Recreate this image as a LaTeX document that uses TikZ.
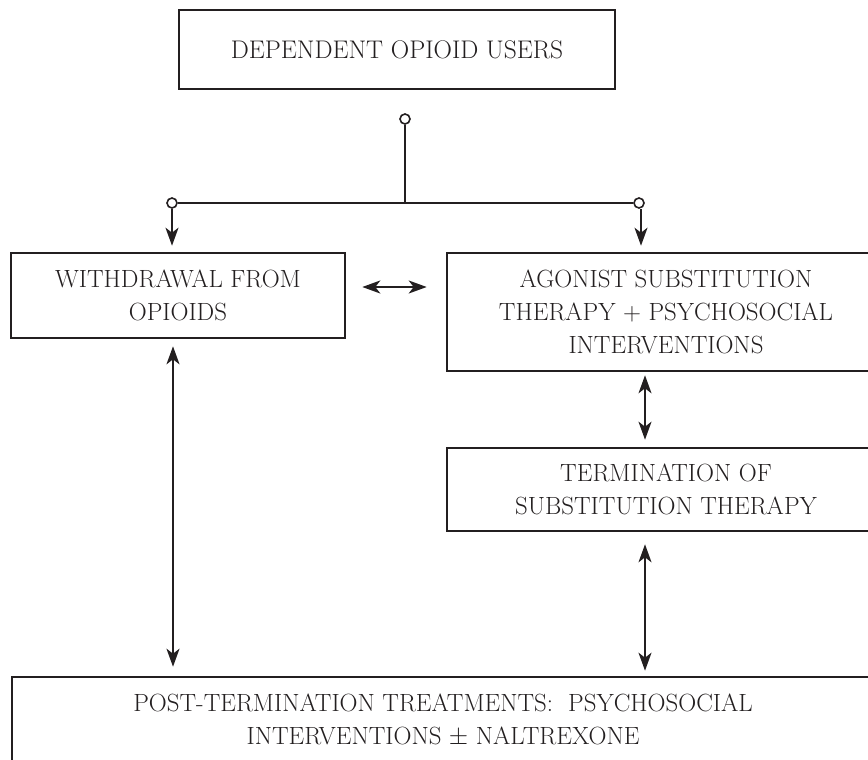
\documentclass[tikz,border=0pt]{standalone}
\usepackage{amsmath}
\usepackage{fontspec}
\usepackage{tikz}
\usetikzlibrary{shapes, arrows.meta, positioning}
\definecolor{ink}{HTML}{231F20}
\newcommand{\boxfont}[1]{\fontsize{#1}{33}\selectfont\addfontfeatures{FakeBold=0.7}}
\tikzstyle{block} = [draw=ink, line width=2.6pt, rectangle, text=ink, align=center, inner sep=0pt, font=\boxfont{24.9}]
\tikzstyle{dot} = [draw=ink, fill=white, circle, line width=1.6pt, inner sep=0pt, minimum size=10pt]
\tikzstyle{link} = [draw=ink, line width=1.8pt]

\begin{document}
\begin{tikzpicture}[x=1pt, y=-1pt, >={Stealth[length=18pt,width=13pt,inset=5pt]}]
    \useasboundingbox (0,0) rectangle (868,760);
    \clip (0,0) rectangle (868,760);
    % boxes
    \node [block, minimum width=436pt, minimum height=79pt, font=\boxfont{25.5}] (users) at (397,49.5) {DEPENDENT OPIOID USERS};
    \node [block, minimum width=334pt, minimum height=85pt] (withdraw) at (178,295.5) {WITHDRAWAL FROM\\OPIOIDS};
    \node [block, minimum width=438pt, minimum height=118pt] (agonist) at (666,312) {AGONIST SUBSTITUTION\\THERAPY + PSYCHOSOCIAL\\INTERVENTIONS};
    \node [block, minimum width=438pt, minimum height=83pt] (termination) at (666,489.5) {TERMINATION OF\\SUBSTITUTION THERAPY};
    \node [block, minimum width=862pt, minimum height=86pt] (post) at (443,720) {POST-TERMINATION TREATMENTS:\ \ PSYCHOSOCIAL\\INTERVENTIONS $\pm$ NALTREXONE};
    % split
    \node [dot] (split) at (405,119) {};
    \node [dot] (leftend) at (172,203) {};
    \node [dot] (rightend) at (639,203) {};
    \coordinate (fork) at (405,203);
    \draw [link] (split) -- (fork);
    \draw [link] (leftend) -- (rightend);
    \draw [link,->,shorten >=6pt] (leftend) -- (leftend |- withdraw.north);
    \draw [link,->,shorten >=6pt] ([xshift=2pt]rightend.south) -- ([xshift=2pt]rightend |- agonist.north);
    % two way links
    \draw [link,<->,line width=2.2pt,shorten <=16pt,shorten >=19pt] ([yshift=8.5pt]withdraw.east) -- ([yshift=8.5pt]withdraw.east -| agonist.west);
    \draw [link,<->,shorten <=7pt,shorten >=9pt] ([xshift=1pt]withdraw.south -| leftend) -- ([xshift=1pt]post.north -| leftend);
    \draw [link,<->,shorten <=3pt,shorten >=7pt] ([xshift=6pt]agonist.south -| rightend) -- ([xshift=6pt]termination.north -| rightend);
    \draw [link,<->,shorten <=12pt,shorten >=5pt] ([xshift=6pt]termination.south -| rightend) -- ([xshift=6pt]post.north -| rightend);
\end{tikzpicture}
\end{document}
